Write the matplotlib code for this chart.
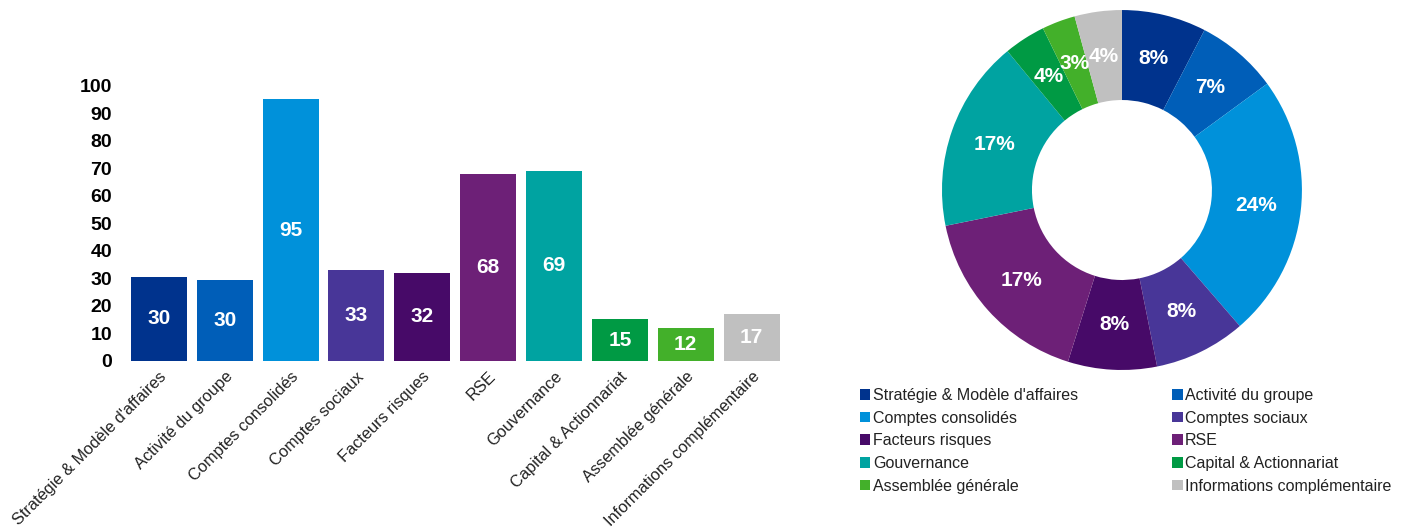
import numpy as np
import matplotlib
matplotlib.use("Agg")
import matplotlib.pyplot as plt

plt.rcParams['font.family'] = ['Liberation Sans', 'DejaVu Sans']

categories = ["Stratégie & Modèle d'affaires", "Activité du groupe", "Comptes consolidés",
              "Comptes sociaux", "Facteurs risques", "RSE", "Gouvernance",
              "Capital & Actionnariat", "Assemblée générale", "Informations complémentaire"]
values = [30.4, 29.5, 95, 33, 32, 68, 69, 15, 12, 17]
colors = ["#00338D", "#005EB8", "#0091DA", "#483698", "#470A68",
          "#6D2077", "#00A3A1", "#009A44", "#43B02A", "#C0C0C0"]
yticks = [0, 10, 20, 30, 40, 50, 60, 70, 80, 90, 100]

fig = plt.figure(figsize=(14.11, 5.27), dpi=100)

# bar chart
ax = fig.add_axes([0.0893, 0.3155, 0.4667, 0.522])
x = np.arange(len(categories))
bars = ax.bar(x, values, width=0.85, color=colors)
for b, v in zip(bars, values):
    ax.text(b.get_x() + b.get_width() / 2, v / 2, f"{round(v)}", ha='center', va='center',
            color='white', fontsize=15, fontweight='bold')
ax.set_xlim(-0.5, len(categories) - 0.5)
ax.set_ylim(0, 100)
ax.set_yticks(yticks)
ax.set_yticklabels([str(t) for t in yticks], fontsize=14, fontweight='bold')
ax.set_xticks(x)
ax.set_xticklabels(categories, rotation=45, ha='right', rotation_mode='anchor',
                   fontsize=11.8, color='#222222')
ax.tick_params(axis='both', length=0)
ax.tick_params(axis='y', pad=10)
ax.tick_params(axis='x', pad=6)
for s in ax.spines.values():
    s.set_visible(False)

# donut chart
ax2 = fig.add_axes([0.6676, 0.2979, 0.2551, 0.6831])
wedges, _, autotexts = ax2.pie(values, colors=colors, startangle=90, counterclock=False,
                               radius=1, autopct='%1.0f%%', pctdistance=0.75,
                               wedgeprops=dict(width=0.5, edgecolor='none'))
for t in autotexts:
    t.set_color('white')
    t.set_fontsize(15)
    t.set_fontweight('bold')
ax2.set_xlim(-1, 1)
ax2.set_ylim(-1, 1)
ax2.set_aspect('equal')

order = [0, 2, 4, 6, 8, 1, 3, 5, 7, 9]
fig.legend([wedges[i] for i in order], [categories[i] for i in order],
           loc='upper left', bbox_to_anchor=(0.6095, 0.264), ncol=2, frameon=False,
           fontsize=11.5, handlelength=0.65, handleheight=0.65, handletextpad=0.15,
           labelspacing=0.48, columnspacing=5.9, labelcolor='#222222',
           borderpad=0, borderaxespad=0)

fig.savefig("out.png", dpi=100)
